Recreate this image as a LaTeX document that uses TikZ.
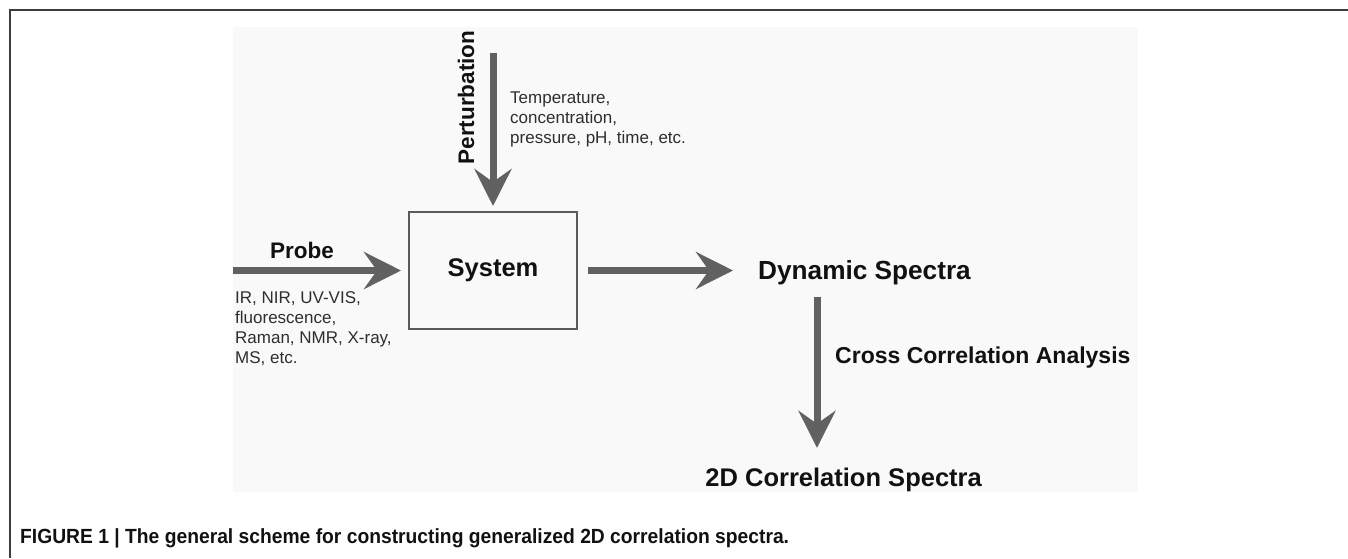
\documentclass[tikz,border=0pt]{standalone}
\usepackage{fontspec}
\setmainfont{Liberation Sans}
\newfontfamily\capfont[FakeStretch=0.94]{Liberation Sans}
\usetikzlibrary{arrows.meta}
\definecolor{panel}{HTML}{F9F9F9}
\definecolor{arrowgrey}{HTML}{616161}
\definecolor{boxgrey}{HTML}{5A5A5A}
\definecolor{framegrey}{HTML}{3C3C3C}
\definecolor{listgrey}{HTML}{2E2E2E}
\definecolor{headblack}{HTML}{111111}
\begin{document}
\begin{tikzpicture}[x=1pt,y=-1pt,
  bigarrow/.style={draw=arrowgrey, line width=7pt,
    -{Stealth[length=37pt,width=37pt,inset=13pt,fill=arrowgrey,color=arrowgrey]}},
  headlbl/.style={inner sep=0pt, text=headblack, text depth=0pt},
  listlbl/.style={inner sep=0pt, text=listgrey, align=left, anchor=north west,
    font=\fontsize{17}{20}\selectfont}
]
\useasboundingbox (0,0) rectangle (1348,558);
% frame and panel
\draw[framegrey, line width=2pt] (1348,10) -- (10,10) -- (10,558);
\fill[panel] (233,27) rectangle (1138,492);

% system box
\node[draw=boxgrey, line width=2pt, minimum width=168pt, minimum height=117pt,
  inner sep=0pt, text=headblack, font=\fontsize{25.5}{30}\selectfont\bfseries]
  (sys) at (493,270.5) {System};

% perturbation
\coordinate (ptop) at (493,53);
\draw[bigarrow, shorten >=5pt] (ptop) -- (sys.north);
\node[headlbl, rotate=90, text height=16pt, font=\fontsize{22.5}{27}\selectfont\bfseries]
  (pert) at (466,97.5) {Perturbation};
\node[listlbl] (ptext) at (510,92) {Temperature,\\concentration,\\pressure, pH, time, etc.};

% probe
\coordinate (pstart) at (233,270.5);
\draw[bigarrow, shorten >=7pt] (pstart) -- (sys.west);
\node[headlbl, text height=16pt, font=\fontsize{22.5}{27}\selectfont\bfseries]
  (probe) at (302,250) {Probe};
\node[listlbl] (plist) at (235,291) {IR, NIR, UV-VIS,\\fluorescence,\\Raman, NMR, X-ray,\\MS, etc.};

% dynamic spectra
\node[headlbl, anchor=west, text height=18.5pt, font=\fontsize{26.2}{31}\selectfont\bfseries]
  (dyn) at (758,270.5) {Dynamic Spectra};
\draw[bigarrow, shorten <=10pt, shorten >=25pt] (sys.east) -- (dyn.west);

% cross correlation
\coordinate (vx) at (817,0);
\node[headlbl, anchor=west, text height=16.5pt, font=\fontsize{23}{28}\selectfont\bfseries]
  (cca) at (835,355) {Cross Correlation Analysis};
\node[headlbl, anchor=east, text height=18pt, font=\fontsize{25.5}{30}\selectfont\bfseries]
  (corr) at (982,477) {2D Correlation Spectra};
\draw[bigarrow, shorten <=17pt, shorten >=20pt] (dyn.south -| vx) -- (corr.north -| vx);

% caption
\node[inner sep=0pt, anchor=west, text=headblack, text height=14.5pt, text depth=0pt,
  font=\capfont\fontsize{20.5}{24}\selectfont\bfseries]
  (cap) at (20,536) {FIGURE 1 | The general scheme for constructing generalized 2D correlation spectra.};
\end{tikzpicture}
\end{document}
